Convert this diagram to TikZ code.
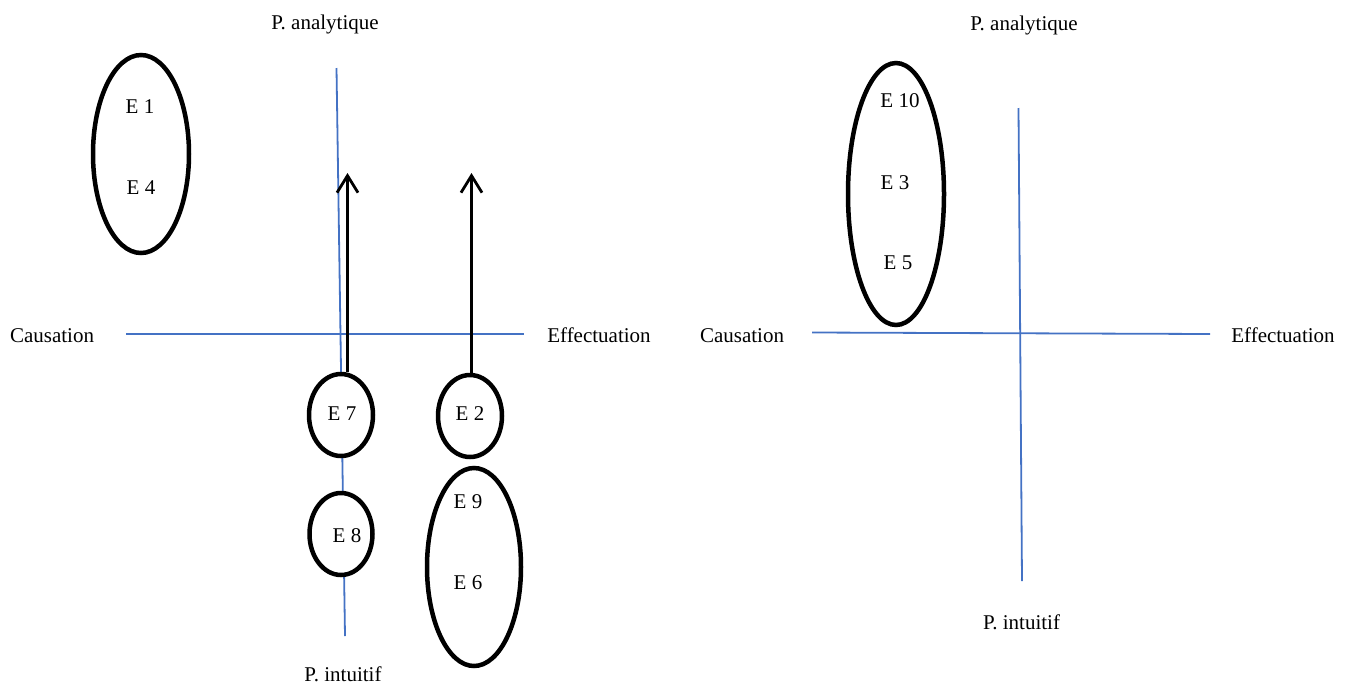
\documentclass[tikz,border=0pt]{standalone}
\usepackage{fontspec}
\setmainfont{Liberation Serif}
\usetikzlibrary{shapes.geometric,arrows.meta}
\definecolor{axisblue}{RGB}{68,114,196}
\begin{document}
\begin{tikzpicture}[x=1pt,y=-1pt,
  lbl/.style={font=\fontsize{21}{25}\selectfont, inner sep=0pt},
  oval/.style={ellipse, draw=black, line width=4.5pt, fill=white, inner sep=0pt},
  axisline/.style={draw=axisblue, line width=1.8pt},
  uparrow/.style={draw=black, line width=2.8pt, -{Straight Barb[length=17pt,width=21pt,line width=2.8pt]}}]
\useasboundingbox (0,0) rectangle (1350,686);
% ---------- left diagram: axes ----------
\coordinate (LT) at (336.5,68);
\coordinate (LB) at (345,636);
\coordinate (LL) at (126,334);
\coordinate (LR) at (524,334);
\draw[axisline] (LT) -- (LB);
\draw[axisline] (LL) -- (LR);
% axis labels
\node[lbl, anchor=base] (lanalyt) at (325,29) {P. analytique};
\node[lbl, anchor=base] (lintuit) at (343,681) {P. intuitif};
\node[lbl, anchor=base] (lcaus) at (52,342) {Causation};
\node[lbl, anchor=base] (leffec) at (599,342) {Effectuation};
% ellipses
\node[oval, minimum width=96pt, minimum height=198pt] (O14) at (141,154) {};
\node[oval, minimum width=64pt, minimum height=82pt] (O7) at (341,415) {};
\node[oval, minimum width=64pt, minimum height=82pt] (O2) at (470,416) {};
\node[oval, minimum width=63pt, minimum height=82pt] (O8) at (341,534) {};
\node[oval, minimum width=94pt, minimum height=198pt] (O96) at (474,567) {};
% labels
\node[lbl] (e1) at (140,107) {E 1};
\node[lbl] (e4) at (141,188) {E 4};
\node[lbl] (e7) at (342,414) {E 7};
\node[lbl] (e2) at (470,414) {E 2};
\node[lbl] (e8) at (347,536) {E 8};
\node[lbl] (e9) at (468,502) {E 9};
\node[lbl] (e6) at (468,583) {E 6};
% arrows
\coordinate (t1) at (347.5,173);
\coordinate (t2) at (471.5,173);
\draw[uparrow] (O7.north -| t1) -- (t1);
\draw[uparrow] (O2.north -| t2) -- (t2);
% ---------- right diagram ----------
\coordinate (RT) at (1018.5,108);
\coordinate (RB) at (1022,581);
\coordinate (RL) at (812,332.5);
\coordinate (RR) at (1210,334);
\draw[axisline] (RT) -- (RB);
\draw[axisline] (RL) -- (RR);
\node[lbl, anchor=base] (ranalyt) at (1024,30) {P. analytique};
\node[lbl, anchor=base] (rintuit) at (1021.5,629) {P. intuitif};
\node[lbl, anchor=base] (rcaus) at (742,342) {Causation};
\node[lbl, anchor=base] (reffec) at (1283,342) {Effectuation};
\node[oval, minimum width=96pt, minimum height=262pt] (O1035) at (896,194) {};
\node[lbl] (e10) at (900,101) {E 10};
\node[lbl] (e3) at (895,183) {E 3};
\node[lbl] (e5) at (898,263) {E 5};
\end{tikzpicture}
\end{document}
